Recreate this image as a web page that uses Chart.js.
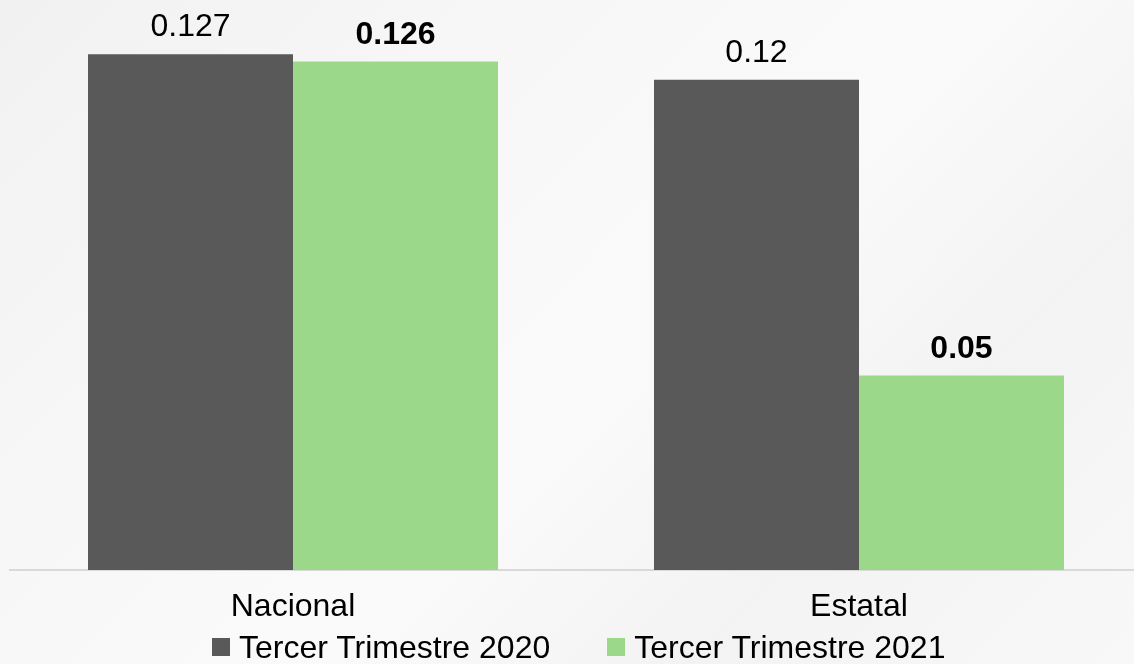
<!DOCTYPE html>
<html>
<head>
<meta charset="utf-8">
<script src="https://cdn.jsdelivr.net/npm/chart.js@4"></script>
<style>
  html, body { margin: 0; padding: 0; }
  body {
    width: 1134px; height: 664px; overflow: hidden;
    background: linear-gradient(135deg, #f1f1f1 0%, #f7f7f7 30%, #fafafa 55%, #f3f3f3 75%, #f8f8f8 100%);
    font-family: "Liberation Sans", Arial, sans-serif;
  }
  #wrap { position: relative; width: 1134px; height: 664px; overflow: hidden; }
  #legend {
    position: absolute; left: 212px; top: 631px;
    display: flex; font-size: 32px; line-height: 32px; color: #000;
  }
  .item { display: flex; align-items: flex-start; margin-right: 57px; }
  .box { width: 18px; height: 18px; margin-top: 7px; margin-right: 9px; }
</style>
</head>
<body>
<div id="wrap">
  <canvas id="myChart" width="1142" height="664"></canvas>
  <div id="legend"></div>
</div>
<script>
const categories = ['Nacional', 'Estatal']
const seriesNames = ['Tercer Trimestre 2020', 'Tercer Trimestre 2021']
const values2020 = [0.1273, 0.1210]
const values2021 = [0.1255, 0.0480]
const labels2020 = ['0.127', '0.12']
const labels2021 = ['0.126', '0.05']

const colors = ['#595959', '#9BD88A']
const valueLabels = [labels2020, labels2021]
const labelFonts = ['normal 32px "Liberation Sans"', 'bold 32px "Liberation Sans"']

const barLabels = {
    id: 'barLabels',
    afterDatasetsDraw(chart) {
        const c = chart.ctx
        c.save()
        c.textAlign = 'center'
        c.textBaseline = 'alphabetic'
        c.fillStyle = '#000'
        chart.data.datasets.forEach((ds, i) => {
            c.font = labelFonts[i]
            chart.getDatasetMeta(i).data.forEach((bar, j) => {
                c.fillText(valueLabels[i][j], bar.x, bar.y - 18)
            })
        })
        c.restore()
    }
}

const ctx = document.getElementById('myChart')

const chart = new Chart(ctx, {
    type: 'bar',
    data: {
        labels: categories,
        datasets: [{
            label: seriesNames[0],
            data: values2020,
            backgroundColor: colors[0],
            borderWidth: 0
        }, {
            label: seriesNames[1],
            data: values2021,
            backgroundColor: colors[1],
            borderWidth: 0
        }]
    },
    options: {
        responsive: false,
        animation: false,
        layout: {
            padding: { left: 10, right: 0, top: 0, bottom: 28 }
        },
        categoryPercentage: 0.7244,
        barPercentage: 1,
        plugins: {
            legend: { display: false },
            tooltip: { enabled: false }
        },
        scales: {
            x: {
                grid: { display: false },
                border: { display: true, color: '#d9d9d9', width: 2 },
                ticks: {
                    color: '#000',
                    padding: 13,
                    font: { family: 'Liberation Sans', size: 32, lineHeight: 1 }
                }
            },
            y: {
                display: false,
                min: 0,
                max: 0.1407
            }
        }
    },
    plugins: [barLabels]
})

const legend = document.getElementById('legend')
chart.data.datasets.forEach(ds => {
    let item = document.createElement('div')
    item.className = 'item'
    let box = document.createElement('span')
    box.className = 'box'
    box.style.background = ds.backgroundColor
    let text = document.createElement('span')
    text.textContent = ds.label
    item.appendChild(box)
    item.appendChild(text)
    legend.appendChild(item)
})
</script>
</body>
</html>
